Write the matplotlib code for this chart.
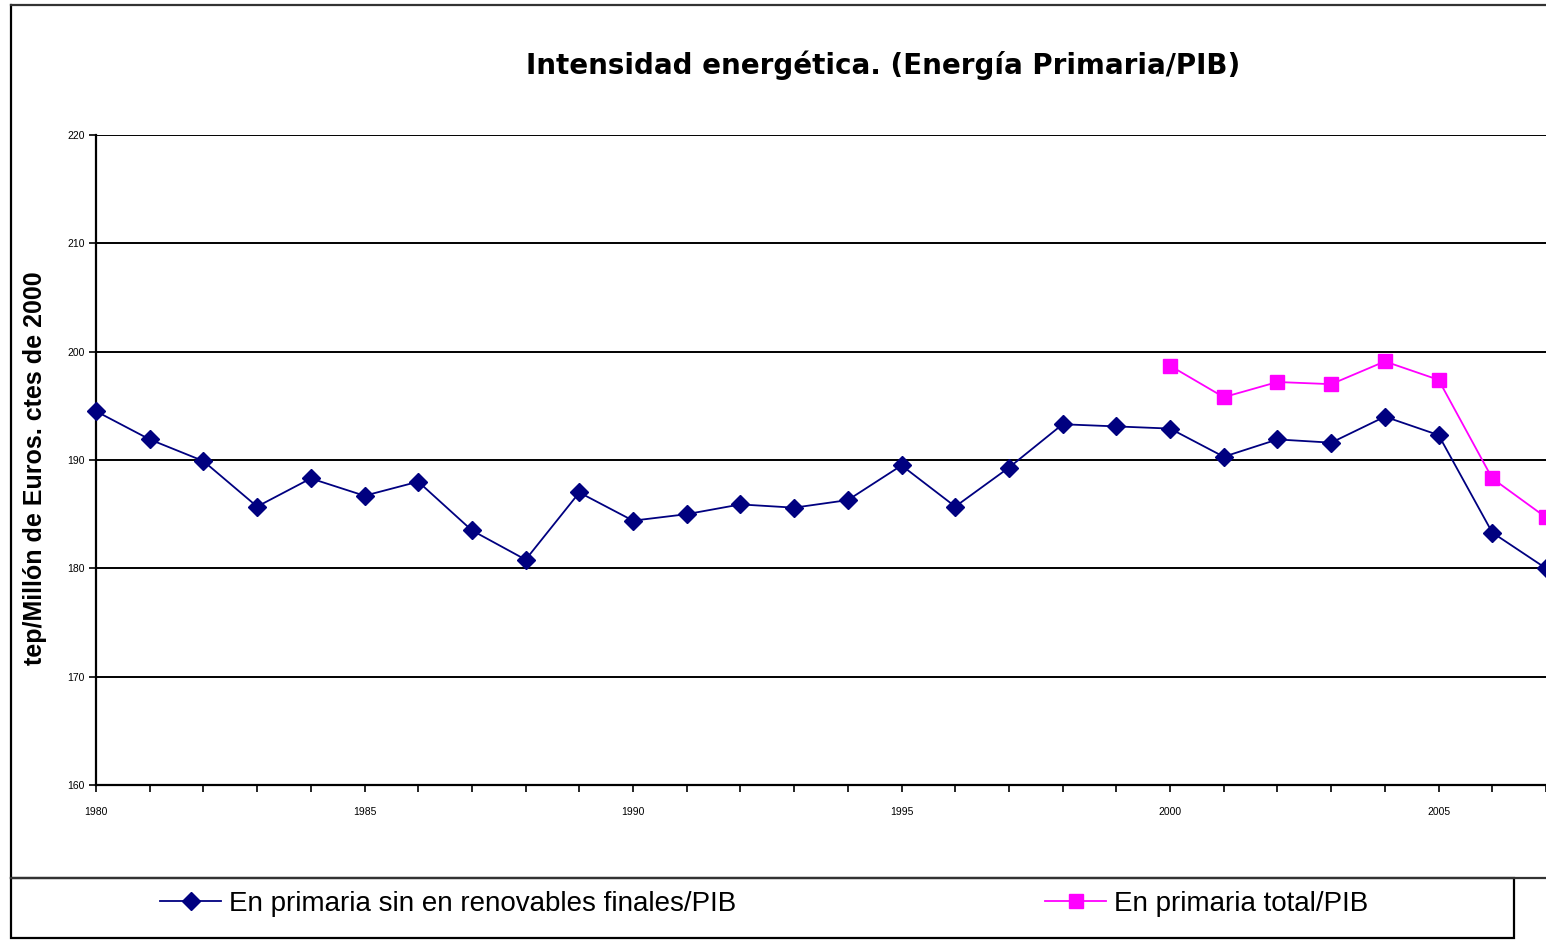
import matplotlib
matplotlib.use("Agg")
import matplotlib.pyplot as plt
from matplotlib.lines import Line2D
from matplotlib.patches import Rectangle

# data
years = list(range(1980, 2008))
sin_renovables = [194.5, 191.9, 189.9, 185.7, 188.3, 186.7, 188.0, 183.5, 180.8, 187.0,
                  184.4, 185.0, 185.9, 185.6, 186.3, 189.5, 185.7, 189.3, 193.3, 193.1,
                  192.9, 190.3, 191.9, 191.6, 194.0, 192.3, 183.3, 180.0]
years_total = list(range(2000, 2008))
total = [198.7, 195.8, 197.2, 197.0, 199.1, 197.4, 188.3, 184.7]

y_ticks = [160, 170, 180, 190, 200, 210, 220]
x_labels = [1980, 1985, 1990, 1995, 2000, 2005]

W, H = 1546, 940
fig = plt.figure(figsize=(W / 100, H / 100), dpi=100)
fig.patch.set_facecolor('white')

# outer chart frame (left, top, bottom edges visible)
fig.add_artist(Line2D([11 / W, 11 / W], [1 - 878 / H, 1 - 5 / H], color='black', lw=1.6))
fig.add_artist(Line2D([11 / W, 1], [1 - 5 / H, 1 - 5 / H], color='#333333', lw=1.6))
fig.add_artist(Line2D([11 / W, 1], [1 - 878 / H, 1 - 878 / H], color='#333333', lw=1.6))
# legend box
fig.add_artist(Rectangle((11 / W, 1 - 938 / H), (1514 - 11) / W, (938 - 878) / H,
                         transform=fig.transFigure, fill=False, edgecolor='black', lw=1.6))

ax = fig.add_axes([96 / W, 1 - 785 / H, (1546 - 96) / W, 650 / H])
ax.plot(years, sin_renovables, color='#000080', marker='D', markersize=9, linewidth=1.3,
        clip_on=False, zorder=4, label='En primaria sin en renovables finales/PIB')
ax.plot(years_total, total, color='#ff00ff', marker='s', markersize=10, linewidth=1.3,
        clip_on=False, zorder=4, label='En primaria total/PIB')

ax.set_xlim(1980, 2007)
ax.set_ylim(160, 220)
ax.set_yticks(y_ticks)
ax.set_yticklabels([str(v) for v in y_ticks], fontsize=7.5, family='Liberation Sans')
ax.set_xticks(years)
ax.set_xticklabels([str(y) if y in x_labels else '' for y in years], fontsize=7.5,
                   family='Liberation Sans')
ax.tick_params(axis='both', direction='out', length=5, width=1.2, colors='black')
ax.tick_params(axis='x', pad=11)
ax.tick_params(axis='y', pad=3)
ax.yaxis.grid(True, color='black', linewidth=1.4)
ax.set_axisbelow(True)
for s in ['top', 'right']:
    ax.spines[s].set_visible(False)
ax.spines['left'].set_linewidth(1.6)
ax.spines['bottom'].set_linewidth(1.6)

fig.text(883 / W, 1 - 65 / H, 'Intensidad energética. (Energía Primaria/PIB)',
         ha='center', va='center', fontsize=20, fontweight='bold', family='DejaVu Sans')
fig.text(35 / W, 1 - 468 / H, 'tep/Millón de Euros. ctes de 2000', rotation=90,
         ha='center', va='center', fontsize=18, fontweight='bold', family='Liberation Sans')

handles, labels = ax.get_legend_handles_labels()
fig.legend(handles, labels, loc='center left', bbox_to_anchor=(135 / W, 1 - 904 / H),
           ncol=2, frameon=False, prop={'family': 'Liberation Sans', 'size': 20},
           columnspacing=11.1, handlelength=2.2, handletextpad=0.3)

fig.savefig('out.png', dpi=100)
